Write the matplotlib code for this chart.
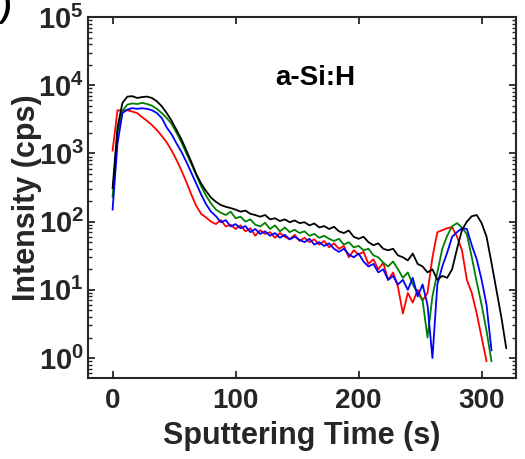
import numpy as np
import matplotlib
matplotlib.use("Agg")
import matplotlib.pyplot as plt
from matplotlib.ticker import LogLocator, NullFormatter

plt.rcParams['font.family'] = ['Liberation Sans', 'DejaVu Sans']
plt.rcParams['font.weight'] = 'bold'
plt.rcParams['mathtext.fontset'] = 'custom'
plt.rcParams['mathtext.rm'] = 'Liberation Sans:bold'
plt.rcParams['mathtext.bf'] = 'Liberation Sans:bold'
plt.rcParams['mathtext.default'] = 'bf'

# sputtering time grid (s), one sample every 4 s
time_s = np.arange(0, 324, 4)

# intensity (cps)
red = [1100, 4300, 4200, 4300, 4100, 3900, 3400, 3000, 2600, 2200,
       1800, 1450, 1100, 800, 560, 380, 250, 170, 130, 115,
       100, 92, 105, 85, 90, 78, 88, 72, 80, 62,
       75, 66, 70, 58, 68, 60, 55, 64, 52, 58,
       50, 55, 46, 52, 42, 48, 40, 44, 30, 38,
       33, 36, 24, 28, 20, 25, 14, 18, 11, 4.5,
       9, 6.5, 10, 7, 9, 30, 70, 75, 80, 83,
       60, 38, 14, 9, 4.5, 2, 0.9]

green = [230, 2000, 4200, 5200, 5400, 5300, 5500, 5300, 5000, 4500,
         3900, 3300, 2700, 2000, 1450, 1000, 700, 480, 330, 240,
         185, 150, 135, 125, 140, 112, 118, 100, 108, 90,
         85, 96, 78, 88, 72, 82, 70, 76, 68, 72,
         62, 66, 58, 62, 56, 52, 56, 46, 50, 42,
         44, 38, 40, 32, 30, 25, 22, 26, 20, 15,
         18, 12, 9, 7, 2, 8, 18, 40, 62, 85,
         95, 82, 65, 30, 13, 6, 2.5, 0.9]

blue = [150, 1400, 3900, 4400, 4600, 4500, 4600, 4500, 4300, 3900,
        3300, 2400, 1900, 1400, 1050, 750, 520, 360, 250, 180,
        140, 120, 98, 105, 85, 92, 80, 86, 70, 78,
        66, 72, 62, 68, 58, 64, 55, 60, 54, 50,
        56, 46, 50, 44, 48, 40, 36, 40, 33, 30,
        34, 26, 22, 24, 18, 20, 14, 16, 12, 14,
        10, 15, 8, 12, 6, 1.0, 12, 22, 35, 60,
        70, 80, 78, 45, 28, 14, 6, 1.3]

black = [310, 2400, 5500, 6800, 6900, 6500, 6700, 6800, 6500, 5800,
         4900, 3900, 3000, 2200, 1600, 1100, 750, 500, 360, 280,
         225, 195, 175, 165, 158, 150, 140, 145, 130, 125,
         118, 125, 108, 112, 102, 108, 98, 104, 95, 98,
         88, 94, 82, 86, 78, 84, 72, 68, 74, 60,
         56, 60, 50, 45, 48, 40, 38, 40, 32, 30,
         27, 34, 24, 22, 18, 20, 14, 16, 15, 20,
         40, 75, 100, 120, 125, 95, 60, 25, 10, 4,
         1.4]

series = [(red, '#ff0000'), (green, '#008000'), (blue, '#0000ff'), (black, '#000000')]

fig = plt.figure(figsize=(5.25, 4.59), dpi=100)
ax = fig.add_axes([0.1676, 0.1765, 0.8154, 0.7865])

for vals, col in series:
    ax.plot(time_s[:len(vals)], vals, color=col, lw=1.3)

ax.set_yscale('log')
ax.set_xlim(-20, 328)
ax.set_ylim(0.51, 1e5)
ax.set_xticks([0, 100, 200, 300])
ax.yaxis.set_major_locator(LogLocator(base=10, numticks=10))
ax.yaxis.set_minor_locator(LogLocator(base=10, subs=np.arange(2, 10), numticks=10))
ax.yaxis.set_minor_formatter(NullFormatter())

txt = '#262626'
for s in ax.spines.values():
    s.set_linewidth(1.5)
    s.set_color(txt)
ax.tick_params(which='both', direction='in', top=True, right=True, color=txt)
ax.tick_params(which='major', length=5, width=1.3)
ax.tick_params(which='minor', length=3, width=1.0)
ax.tick_params(axis='x', labelsize=20, pad=7, labelcolor=txt)
ax.tick_params(axis='y', labelsize=21, pad=3, labelcolor=txt)

ax.set_xlabel('Sputtering Time (s)', fontsize=22, fontweight='bold', color=txt, labelpad=5)
ax.set_ylabel('Intensity (cps)', fontsize=22, fontweight='bold', color=txt, labelpad=-3)

ax.text(0.53, 0.83, 'a-Si:H', transform=ax.transAxes, ha='center', va='center',
        fontsize=20, fontweight='bold', color='#000000')

# panel label, mostly cut off at the left edge
fig.text(12 / 525, 1 + 6 / 459, '(b)', ha='right', va='top', fontsize=22,
         fontweight='bold', style='italic', color='#000000')

fig.savefig('out.png', dpi=100)
